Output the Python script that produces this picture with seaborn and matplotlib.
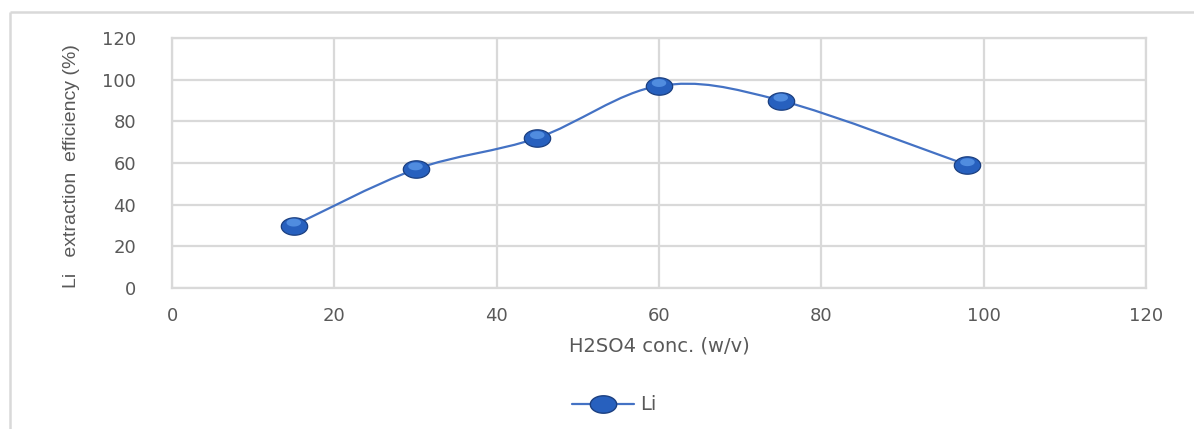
import numpy as np
import pandas as pd
import matplotlib
matplotlib.use("Agg")
import matplotlib.pyplot as plt
import seaborn as sns
from matplotlib.path import Path
from matplotlib.patches import PathPatch
from matplotlib.lines import Line2D
from matplotlib import font_manager as fm

# ---- data ----
conc = [15, 30, 45, 60, 75, 98]
li_eff = [30, 57, 72, 97, 90, 59]
x_ticks = [0, 20, 40, 60, 80, 100, 120]
y_ticks = [0, 20, 40, 60, 80, 100, 120]
series_name = "Li"
x_label = "H2SO4 conc. (w/v)"
y_label = "Li   extraction  efficiency (%)"

sns.set_theme(style="white")
plt.rcParams['font.family'] = ['DejaVu Sans']

names = {f.name for f in fm.fontManager.ttflist}
narrow = "Liberation Sans Narrow" if "Liberation Sans Narrow" in names else "Liberation Sans"

fig = plt.figure(figsize=(11.94, 4.29), dpi=100)
ax = fig.add_axes([172/1194, (429-288)/429, (1146-172)/1194, (288-38)/429])

grid_c = "#D9D9D9"
line_c = "#4472C4"
text_c = "#595959"

# smooth (Excel-like) curve through the data points via cubic Bezier segments
P = np.column_stack([conc, li_eff]).astype(float)
n = len(P)
verts = [tuple(P[0])]
codes = [Path.MOVETO]
for i in range(n - 1):
    p0 = P[i - 1] if i > 0 else P[i]
    p1 = P[i]
    p2 = P[i + 1]
    p3 = P[i + 2] if i + 2 < n else P[i + 1]
    c1 = p1 + (p2 - p0) / 6.0
    c2 = p2 - (p3 - p1) / 6.0
    verts += [tuple(c1), tuple(c2), tuple(p2)]
    codes += [Path.CURVE4] * 3
ax.add_patch(PathPatch(Path(verts, codes), facecolor="none", edgecolor=line_c, lw=1.6, zorder=3))

# ellipse marker (sphere-like look: dark body + lighter offset highlight)
t = np.linspace(0, 2 * np.pi, 60)
ell = Path(np.column_stack([np.cos(t), 0.66 * np.sin(t)]))
hl = Path(np.column_stack([0.55 * np.cos(t), 0.22 + 0.3 * np.sin(t)]))
hl_scale = 0.55

df = pd.DataFrame({"conc": conc, "eff": li_eff})
msize = 19
sns.scatterplot(data=df, x="conc", y="eff", marker=ell, s=msize**2, color="#2760BE",
                edgecolor="#1B3F80", linewidth=0.9, ax=ax, zorder=4, legend=False)
sns.scatterplot(data=df, x="conc", y="eff", marker=hl, s=(msize * hl_scale)**2, color="#5E9BEB",
                edgecolor="none", linewidth=0, ax=ax, zorder=5, legend=False, alpha=0.75)

ax.set_xlim(0, 120)
ax.set_ylim(0, 120)
ax.set_xticks(x_ticks)
ax.set_yticks(y_ticks)
ax.grid(True, color=grid_c, lw=1.6)
for s in ax.spines.values():
    s.set_color(grid_c)
    s.set_linewidth(1.6)
ax.tick_params(length=0, labelsize=13, labelcolor=text_c)
ax.tick_params(axis="x", pad=14)
ax.tick_params(axis="y", pad=26)
for lab in ax.get_yticklabels() + ax.get_xticklabels():
    lab.set_color(text_c)

ax.set_xlabel(x_label, fontsize=14, color=text_c, labelpad=8)
ax.set_ylabel("")
fig.text(72/1194, 1 - 166/429, y_label, rotation=90, ha="center", va="center",
         fontsize=14, color=text_c, family=narrow)

handle = Line2D([0], [0], color=line_c, lw=1.6, marker=ell, markersize=msize,
                markerfacecolor="#2760BE", markeredgecolor="#1B3F80")
fig.legend([handle], [series_name], loc="center", bbox_to_anchor=(614/1194, 1 - 405/429),
           frameon=False, fontsize=14, labelcolor=text_c, handlelength=3.2, handletextpad=0.3)

# outer chart border (top and left visible)
fig.add_artist(Line2D([10/1194, 1.02], [1 - 12/429, 1 - 12/429], transform=fig.transFigure,
                      color=grid_c, lw=1.8, solid_capstyle="butt", clip_on=False))
fig.add_artist(Line2D([10/1194, 10/1194], [-0.02, 1 - 12/429], transform=fig.transFigure,
                      color=grid_c, lw=1.8, solid_capstyle="butt", clip_on=False))

fig.savefig("out.png", dpi=100, facecolor="white")
